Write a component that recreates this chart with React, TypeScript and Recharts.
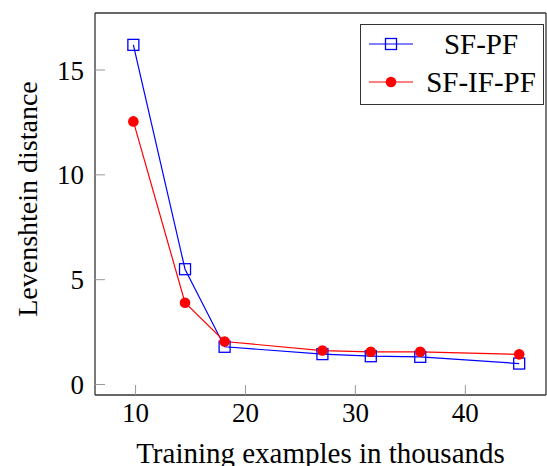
import { LineChart, Line, XAxis, YAxis, Legend } from "recharts";

// Training set size (thousands) and Levenshtein distance per model
const trainingK = [9.8, 14.5, 18.1, 27, 31.4, 35.9, 44.9];
const sfPf = [16.2, 5.5, 1.8, 1.45, 1.35, 1.32, 1.0];
const sfIfPf = [12.55, 3.9, 2.05, 1.62, 1.56, 1.56, 1.44];
const seriesOrder = ["SF-PF", "SF-IF-PF"];
const xTicks = [10, 20, 30, 40];
const yTicks = [0, 5, 10, 15];

const data = trainingK.map((x, i) => ({ x, sfPf: sfPf[i], sfIfPf: sfIfPf[i] }));

const serif = "Liberation Serif";
const xDomain: [number, number] = [6.31, 47.34];
const yDomain: [number, number] = [-0.5, 17.72];

function SquareDot({ cx, cy }: { cx?: number; cy?: number }) {
  if (cx == null || cy == null) return null;
  return (
    <rect x={cx - 5.5} y={cy - 5.5} width={11} height={11} fill="none" stroke="#0000ff" strokeWidth={1.3} />
  );
}

function CircleDot({ cx, cy }: { cx?: number; cy?: number }) {
  if (cx == null || cy == null) return null;
  return <circle cx={cx} cy={cy} r={5.3} fill="#ff0000" stroke="none" />;
}

// pgfplots-style legend box
function LegendBox({ payload }: { payload?: Array<{ value: string; color: string; dataKey?: string }> }) {
  if (!payload) return null;
  const items = [...payload].sort((a, b) => seriesOrder.indexOf(a.value) - seriesOrder.indexOf(b.value));
  return (
    <div
      style={{
        width: 184,
        height: 81,
        boxSizing: "border-box",
        border: "1px solid #333",
        background: "#fff",
        fontFamily: serif,
        fontSize: 29,
        color: "#000",
      }}
    >
      {items.map((p) => (
        <div key={p.value} style={{ display: "flex", alignItems: "center", height: 38 }}>
          <svg width={58} height={20} style={{ flex: "none" }}>
            <line x1={8} x2={52} y1={10} y2={10} stroke={p.color} strokeWidth={1.2} />
            {p.dataKey === "sfPf" ? (
              <rect x={24.5} y={4.5} width={11} height={11} fill="none" stroke={p.color} strokeWidth={1.3} />
            ) : (
              <circle cx={30} cy={10} r={5.3} fill={p.color} />
            )}
          </svg>
          <span style={{ flex: 1, textAlign: "center", lineHeight: "38px" }}>{p.value}</span>
        </div>
      ))}
    </div>
  );
}

export default function App() {
  return (
    <div style={{ position: "absolute", left: 0, top: 0, width: 547, height: 466, background: "#fff" }}>
      <LineChart width={547} height={466} data={data} margin={{ top: 12, right: 0, left: 0, bottom: 0 }}>
        <XAxis
          xAxisId="b"
          dataKey="x"
          type="number"
          domain={xDomain}
          ticks={xTicks}
          height={71}
          tickSize={-10}
          tickMargin={18}
          tick={{ fill: "#000", fontSize: 27, fontFamily: serif }}
          tickLine={{ stroke: "#999" }}
          axisLine={{ stroke: "#333", strokeWidth: 1.3 }}
          label={{
            value: "Training examples in thousands",
            position: "insideTop",
            offset: 47,
            fill: "#000",
            fontSize: 29,
            fontFamily: serif,
          }}
        />
        <XAxis
          xAxisId="t"
          dataKey="x"
          type="number"
          orientation="top"
          domain={xDomain}
          ticks={xTicks}
          height={1}
          tickSize={-10}
          tick={false}
          tickLine={{ stroke: "#999" }}
          axisLine={{ stroke: "#333", strokeWidth: 1.3 }}
        />
        <YAxis
          yAxisId="l"
          type="number"
          domain={yDomain}
          ticks={yTicks}
          width={95}
          tickSize={-10}
          tickMargin={21}
          tick={{ fill: "#000", fontSize: 27, fontFamily: serif }}
          tickLine={{ stroke: "#999" }}
          axisLine={{ stroke: "#333", strokeWidth: 1.3 }}
          label={{
            value: "Levenshtein distance",
            angle: -90,
            position: "center",
            dx: -20,
            dy: -5,
            fill: "#000",
            fontSize: 28,
            fontFamily: serif,
          }}
        />
        <YAxis
          yAxisId="r"
          type="number"
          orientation="right"
          domain={yDomain}
          ticks={yTicks}
          width={1}
          tickSize={-10}
          tick={false}
          tickLine={{ stroke: "#999" }}
          axisLine={{ stroke: "#333", strokeWidth: 1.3 }}
        />
        <Legend
          layout="vertical"
          align="center"
          verticalAlign="middle"
          wrapperStyle={{ left: 360, top: 24, width: 184 }}
          content={<LegendBox />}
        />
        <Line
          xAxisId="b"
          yAxisId="l"
          dataKey="sfPf"
          name="SF-PF"
          type="linear"
          stroke="#0000ff"
          strokeWidth={1.2}
          dot={<SquareDot />}
          activeDot={false}
          isAnimationActive={false}
        />
        <Line
          xAxisId="b"
          yAxisId="l"
          dataKey="sfIfPf"
          name="SF-IF-PF"
          type="linear"
          stroke="#ff0000"
          strokeWidth={1.2}
          dot={<CircleDot />}
          activeDot={false}
          isAnimationActive={false}
        />
      </LineChart>
    </div>
  );
}
